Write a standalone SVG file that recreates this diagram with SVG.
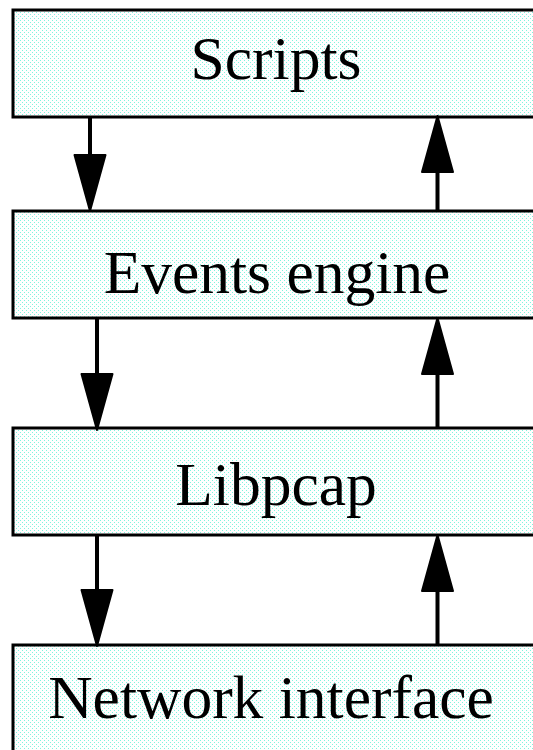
<svg xmlns="http://www.w3.org/2000/svg" width="533" height="750" viewBox="0 0 533 750">
  <defs>
    <!-- light stipple used as the box fill -->
    <pattern id="stipple" width="4" height="4" patternUnits="userSpaceOnUse">
      <rect width="4" height="4" fill="#ffffff"/>
      <rect x="0" y="0" width="1" height="1" fill="#80f4de"/>
      <rect x="2" y="2" width="1" height="1" fill="#80f4de"/>
    </pattern>
    <marker id="head" markerUnits="userSpaceOnUse" orient="auto" refX="0" refY="0" markerWidth="60" markerHeight="40" overflow="visible">
      <path d="M0,-15.5 L56,0 L0,15.5 Z" fill="#000" stroke="#000" stroke-width="2" stroke-linejoin="round"/>
    </marker>
    <style>
      .box { fill: url(#stipple); stroke: #000; stroke-width: 3; }
      .label { font-family: "Liberation Serif", "Times New Roman", serif; font-size: 61.5px; fill: #000; text-anchor: middle; }
      .edge { stroke: #000; stroke-width: 4; fill: none; marker-end: url(#head); }
    </style>
  </defs>

  <g id="scripts">
    <rect class="box" x="13" y="10" width="540" height="107"/>
    <text class="label" x="276" y="79">Scripts</text>
  </g>
  <g id="events-engine">
    <rect class="box" x="13" y="211" width="540" height="107"/>
    <text class="label" x="277" y="293">Events engine</text>
  </g>
  <g id="libpcap">
    <rect class="box" x="13" y="428" width="540" height="107"/>
    <text class="label" x="276" y="505">Libpcap</text>
  </g>
  <g id="network-interface">
    <rect class="box" x="13" y="645" width="540" height="120"/>
    <text class="label" x="271" y="718">Network interface</text>
  </g>

  <g id="connectors">
    <!-- downward flow -->
    <path class="edge" d="M90,117 L90,155"/>
    <path class="edge" d="M97,318 L97,374"/>
    <path class="edge" d="M97,535 L97,590"/>
    <!-- upward flow -->
    <path class="edge" d="M437.5,211 L437.5,172"/>
    <path class="edge" d="M437.5,428 L437.5,374"/>
    <path class="edge" d="M437.5,645 L437.5,591"/>
  </g>
</svg>
